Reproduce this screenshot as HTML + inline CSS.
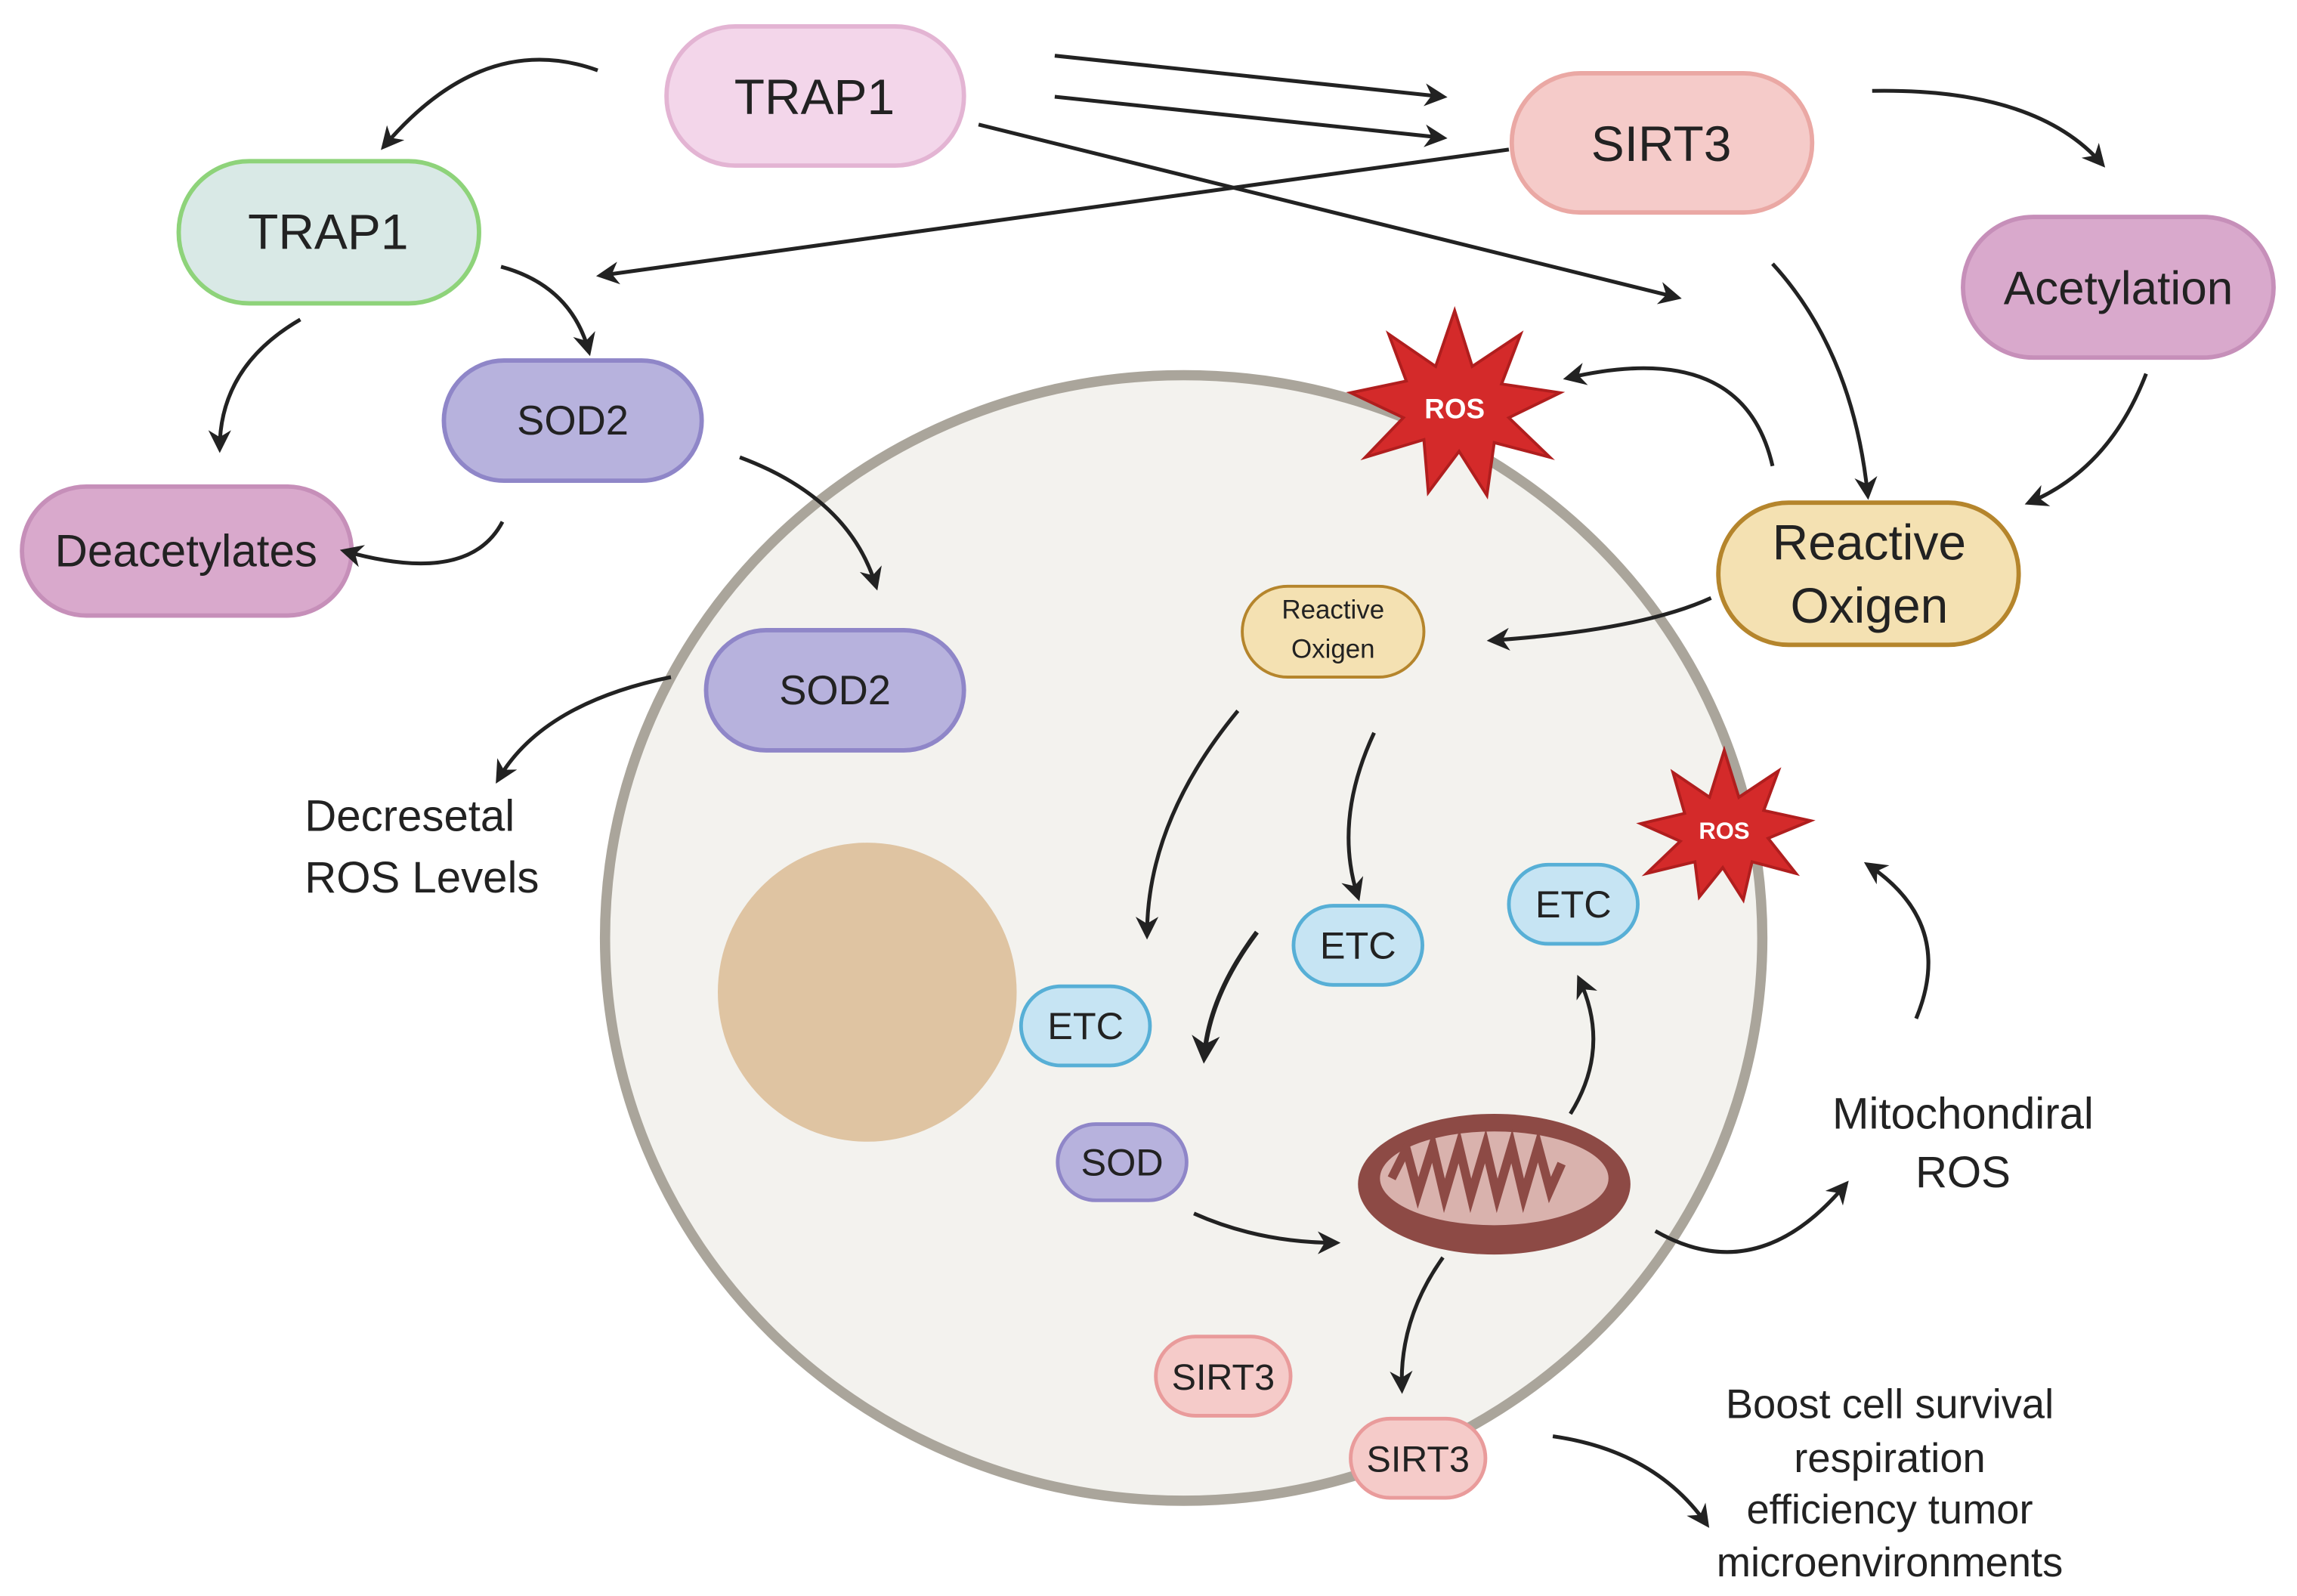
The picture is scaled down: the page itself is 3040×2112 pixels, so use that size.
<!DOCTYPE html>
<html><head><meta charset="utf-8"><style>
html,body{margin:0;padding:0;background:#fff;}
svg{display:block;}
text{font-family:"Liberation Sans",sans-serif;fill:#222;text-anchor:middle;dominant-baseline:central;}
.a{fill:none;stroke:#222;stroke-width:2.6;marker-end:url(#ah);}
</style></head><body>
<svg width="3040" height="2112" viewBox="0 0 1568 1089" preserveAspectRatio="none" xmlns="http://www.w3.org/2000/svg">
<defs>
<marker id="ah" viewBox="0 0 10 10" refX="8" refY="5" markerWidth="6" markerHeight="6" orient="auto-start-reverse" markerUnits="strokeWidth">
<path d="M0,0 L10,5 L0,10 L3,5 z" fill="#222"/></marker>
</defs>
<rect width="1568" height="1089" fill="#fff"/>
<!-- cell -->
<ellipse cx="808" cy="640" rx="395" ry="384" fill="#f3f2ee" stroke="#aaa59b" stroke-width="7"/>
<circle cx="592" cy="677" r="102" fill="#dfc4a2"/>
<!-- mitochondrion -->
<ellipse cx="1020" cy="808" rx="93" ry="48" fill="#8d4a45"/>
<ellipse cx="1020" cy="804" rx="78" ry="32" fill="#d9b2ad"/>
<path d="M950,804 l10,-20 l8,30 l10,-32 l8,34 l10,-34 l8,34 l10,-34 l8,34 l10,-34 l8,34 l10,-34 l8,30 l8,-18" fill="none" stroke="#8d4a45" stroke-width="6"/>
<!-- ROS bursts -->
<polygon fill="#d42a2a" stroke="#b01e1e" stroke-width="2" points="993,212 1005,250 1038,228 1025,262 1065,268 1030,285 1058,312 1020,302 1015,338 996,308 975,336 972,300 932,312 958,285 922,268 960,260 948,228 980,250"/>
<text x="993" y="279" font-size="19" font-weight="bold" style="fill:#fff">ROS</text>
<polygon fill="#d42a2a" stroke="#b01e1e" stroke-width="2" points="1177,512 1187,544 1214,526 1204,553 1236,560 1207,572 1226,596 1196,588 1190,614 1176,592 1160,612 1157,588 1124,596 1147,574 1120,562 1150,555 1142,527 1167,544"/>
<text x="1177" y="567" font-size="16" font-weight="bold" style="fill:#fff">ROS</text>
<!-- nodes -->
<rect x="455" y="18" width="203" height="95" rx="47" fill="#f3d6ea" stroke="#e3b4d3" stroke-width="3"/>
<text x="556" y="66" font-size="34">TRAP1</text>
<rect x="1032" y="50" width="205" height="95" rx="47" fill="#f5cbc9" stroke="#eaa8a4" stroke-width="3"/>
<text x="1134" y="98" font-size="34">SIRT3</text>
<rect x="122" y="110" width="205" height="97" rx="48" fill="#d9e9e6" stroke="#8ed37a" stroke-width="3"/>
<text x="224" y="158" font-size="34">TRAP1</text>
<rect x="1340" y="148" width="212" height="96" rx="48" fill="#d9a9cc" stroke="#c68fb9" stroke-width="3"/>
<text x="1446" y="197" font-size="32">Acetylation</text>
<rect x="303" y="246" width="176" height="82" rx="41" fill="#b7b2dd" stroke="#8f86c8" stroke-width="3"/>
<text x="391" y="287" font-size="28">SOD2</text>
<rect x="15" y="332" width="225" height="88" rx="44" fill="#d9a9cc" stroke="#c68fb9" stroke-width="3"/>
<text x="127" y="376" font-size="31">Deacetylates</text>
<rect x="1173" y="343" width="205" height="97" rx="48" fill="#f4e1b2" stroke="#b5852c" stroke-width="3"/>
<text x="1276" y="370" font-size="34">Reactive</text>
<text x="1276" y="413" font-size="34">Oxigen</text>
<rect x="482" y="430" width="176" height="82" rx="41" fill="#b7b2dd" stroke="#8f86c8" stroke-width="3"/>
<text x="570" y="471" font-size="28">SOD2</text>
<rect x="848" y="400" width="124" height="62" rx="31" fill="#f4e1b2" stroke="#b5852c" stroke-width="2"/>
<text x="910" y="416" font-size="18">Reactive</text>
<text x="910" y="443" font-size="18">Oxigen</text>
<rect x="697" y="673" width="88" height="54" rx="27" fill="#c6e4f3" stroke="#57afd6" stroke-width="2.5"/>
<text x="741" y="700" font-size="26">ETC</text>
<rect x="883" y="618" width="88" height="54" rx="27" fill="#c6e4f3" stroke="#57afd6" stroke-width="2.5"/>
<text x="927" y="645" font-size="26">ETC</text>
<rect x="1030" y="590" width="88" height="54" rx="27" fill="#c6e4f3" stroke="#57afd6" stroke-width="2.5"/>
<text x="1074" y="617" font-size="26">ETC</text>
<rect x="722" y="767" width="88" height="52" rx="26" fill="#b7b2dd" stroke="#8f86c8" stroke-width="2.5"/>
<text x="766" y="793" font-size="26">SOD</text>
<rect x="789" y="912" width="92" height="54" rx="27" fill="#f5cbc9" stroke="#e99b9b" stroke-width="2.5"/>
<text x="835" y="940" font-size="25">SIRT3</text>
<rect x="922" y="968" width="92" height="54" rx="27" fill="#f5cbc9" stroke="#e99b9b" stroke-width="2.5"/>
<text x="968" y="996" font-size="25">SIRT3</text>
<!-- labels -->
<text x="208" y="557" font-size="30" style="text-anchor:start">Decresetal</text>
<text x="208" y="599" font-size="30" style="text-anchor:start">ROS Levels</text>
<text x="1340" y="760" font-size="30">Mitochondiral</text>
<text x="1340" y="800" font-size="30">ROS</text>
<text x="1290" y="958" font-size="28">Boost cell survival</text>
<text x="1290" y="995" font-size="28">respiration</text>
<text x="1290" y="1030" font-size="28">efficiency tumor</text>
<text x="1290" y="1066" font-size="28">microenvironments</text>
<!-- arrows -->
<path class="a" d="M408,48 Q330,20 262,100"/>
<path class="a" d="M720,38 L985,66"/>
<path class="a" d="M720,66 L985,94"/>
<path class="a" d="M668,85 L1145,203"/>
<path class="a" d="M1030,102 L410,188"/>
<path class="a" d="M1278,62 Q1390,60 1435,112"/>
<path class="a" d="M342,182 Q390,195 402,240"/>
<path class="a" d="M205,218 Q150,250 150,306"/>
<path class="a" d="M343,356 Q320,400 235,376"/>
<path class="a" d="M505,312 Q580,340 598,400"/>
<path class="a" d="M458,462 Q370,480 340,532"/>
<path class="a" d="M1210,180 Q1265,240 1275,338"/>
<path class="a" d="M1465,255 Q1440,320 1385,343"/>
<path class="a" d="M1210,318 Q1190,230 1070,258"/>
<path class="a" d="M1168,408 Q1120,430 1018,437"/>
<path class="a" d="M845,485 Q783,560 783,638"/>
<path class="a" d="M938,500 Q910,560 927,612"/>
<path class="a" d="M858,636 Q825,680 822,722" style="stroke-width:3.2"/>
<path class="a" d="M815,828 Q860,848 912,848"/>
<path class="a" d="M1072,760 Q1100,715 1078,668"/>
<path class="a" d="M1308,695 Q1335,630 1275,590"/>
<path class="a" d="M1130,840 Q1200,880 1260,808"/>
<path class="a" d="M985,858 Q955,900 957,948"/>
<path class="a" d="M1060,980 Q1130,990 1165,1040"/>
</svg>
</body></html>
